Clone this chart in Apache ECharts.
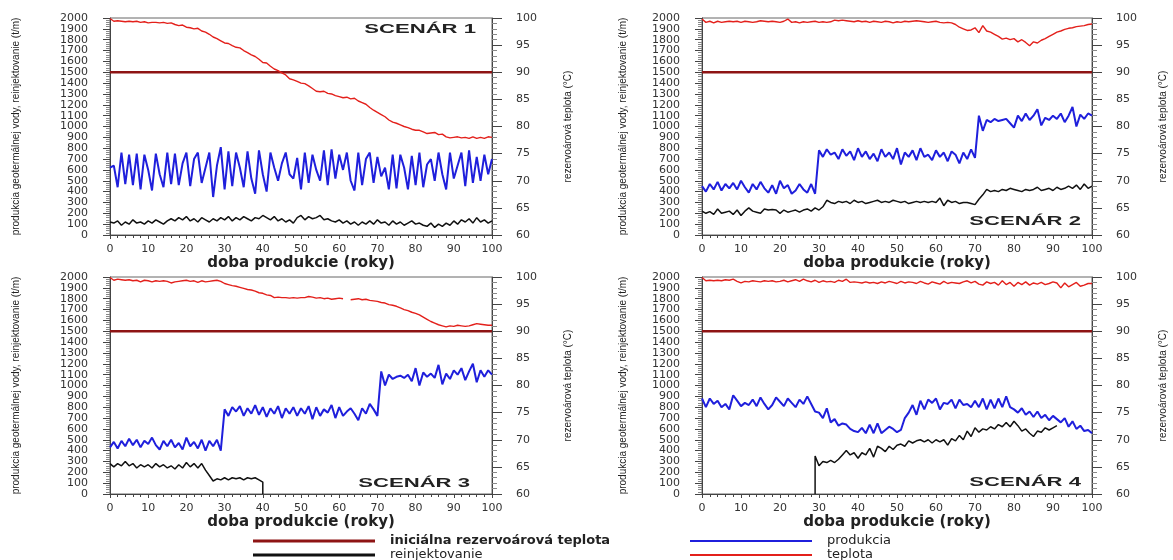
<!DOCTYPE html>
<html><head><meta charset="utf-8">
<script src="https://cdn.jsdelivr.net/npm/echarts@6/dist/echarts.min.js"></script>
<style>html,body{margin:0;padding:0;background:#fff}#c{width:1173px;height:560px}</style>
</head><body><div id="c"></div>
<script>
// ---------- DATA ----------
const xTickLabels = [0,10,20,30,40,50,60,70,80,90,100];
const scenarioNames = ['SCENÁR 1','SCENÁR 2','SCENÁR 3','SCENÁR 4'];
const initialTemp = [[0, 90], [100, 90]];

// Scenario 1 (yearly values, year 0..100)
const s1Temp = [99.9,99.4,99.5,99.4,99.3,99.4,99.3,99.4,99.2,99.3,99.1,99.2,99.2,99.1,99.2,99.0,99.1,98.8,98.6,98.7,98.3,98.2,98.0,98.1,97.6,97.4,97.0,96.5,96.2,95.8,95.4,95.3,94.9,94.6,94.5,94.0,93.6,93.2,92.9,92.4,91.8,91.7,91.1,90.6,90.3,89.9,89.5,88.8,88.6,88.3,88.0,87.9,87.5,87.0,86.5,86.4,86.5,86.1,86.0,85.7,85.5,85.3,85.4,85.1,85.2,84.7,84.4,84.1,83.5,83.0,82.6,82.2,81.8,81.2,80.8,80.6,80.3,80.0,79.8,79.5,79.3,79.3,79.0,78.7,78.8,78.9,78.5,78.6,78.1,77.9,78.0,78.1,77.9,78.0,77.8,78.1,77.8,78.0,77.8,78.1,78.0];
const s1Prod = [620,640,440,760,470,740,460,750,420,740,600,410,750,560,440,760,470,750,460,660,760,450,700,760,480,620,760,350,640,810,420,770,450,760,620,440,770,520,380,780,560,400,760,620,500,660,760,560,520,710,420,760,480,740,600,500,780,460,790,520,740,600,760,500,410,760,460,700,760,480,720,540,620,420,740,430,740,620,420,730,460,760,440,650,700,500,760,560,420,760,520,640,760,450,780,480,720,500,740,560,700];
const s1Reinj = [120,110,130,90,120,100,140,110,120,100,130,110,140,120,100,130,150,130,160,140,170,130,150,120,160,140,120,150,130,160,140,170,130,160,140,170,150,130,160,150,180,160,140,170,130,150,120,140,110,160,180,140,170,150,160,180,140,150,130,120,140,110,130,100,120,90,120,100,130,100,140,110,120,90,130,100,120,90,110,130,100,110,90,80,110,70,100,80,110,90,130,100,140,120,150,110,160,120,140,110,130];

// Scenario 2
const s2Temp = [99.8,99.2,99.4,99.1,99.4,99.2,99.3,99.4,99.3,99.4,99.2,99.4,99.3,99.2,99.3,99.5,99.4,99.3,99.4,99.3,99.2,99.4,99.8,99.2,99.3,99.1,99.3,99.2,99.3,99.4,99.2,99.3,99.2,99.3,99.6,99.5,99.6,99.5,99.4,99.3,99.5,99.3,99.4,99.2,99.4,99.3,99.2,99.4,99.3,99.1,99.3,99.2,99.4,99.3,99.4,99.5,99.4,99.3,99.2,99.3,99.4,99.2,99.1,99.2,99.1,98.8,98.3,98.0,97.7,97.8,98.2,97.3,98.6,97.6,97.4,97.0,96.6,96.1,96.3,96.0,96.2,95.6,96.0,95.5,94.9,95.6,95.4,95.9,96.2,96.6,97.0,97.4,97.6,97.9,98.1,98.2,98.4,98.5,98.6,98.8,98.9];
const s2Prod = [450,400,470,420,490,410,470,430,480,420,500,440,390,470,420,490,430,390,460,380,500,430,460,380,410,470,420,390,470,380,780,720,790,740,760,700,790,730,770,690,800,720,770,700,750,680,790,720,760,700,800,650,760,720,780,690,800,720,740,690,780,720,760,680,770,740,660,760,700,790,710,1100,960,1060,1040,1070,1050,1060,1070,1030,990,1100,1050,1120,1060,1100,1160,1010,1080,1060,1100,1070,1120,1040,1100,1180,1000,1110,1070,1120,1100];
const s2Reinj = [220,200,215,190,240,200,210,220,190,230,180,220,250,220,210,200,240,230,235,230,200,230,210,220,230,210,230,240,220,250,230,260,320,300,290,310,300,310,290,320,300,310,290,300,310,320,300,310,300,320,310,300,310,290,300,310,300,310,300,310,300,340,270,320,300,310,290,300,300,290,280,330,370,420,400,410,400,420,410,430,420,410,400,420,410,420,440,410,420,430,410,440,420,430,450,430,460,420,470,430,450];

// Scenario 3
const s3Temp = [99.9,99.4,99.6,99.5,99.4,99.5,99.3,99.4,99.1,99.4,99.3,99.1,99.3,99.2,99.3,99.2,98.9,99.1,99.2,99.3,99.4,99.2,99.3,99.0,99.3,99.1,99.2,99.3,99.4,99.2,98.8,98.6,98.4,98.3,98.1,97.9,97.7,97.6,97.4,97.1,97.0,96.7,96.6,96.2,96.3,96.2,96.2,96.1,96.2,96.1,96.2,96.2,96.4,96.3,96.1,96.2,96.0,96.1,95.9,96.0,96.1,96.0,null,95.8,95.9,96.0,95.8,95.9,95.7,95.6,95.5,95.3,95.2,94.9,94.8,94.6,94.3,94.0,93.8,93.5,93.3,93.0,92.6,92.2,91.8,91.5,91.2,91.0,90.8,91.0,90.9,91.1,91.0,90.9,91.0,91.2,91.4,91.3,91.2,91.1,91.1];
const s3Prod = [430,480,420,490,440,510,450,500,430,490,460,520,450,410,490,440,500,430,470,410,520,440,480,420,500,400,490,440,500,400,780,720,800,760,810,720,790,740,820,730,800,710,790,740,810,700,790,740,800,720,790,740,810,690,800,720,780,750,820,700,800,720,760,790,740,680,790,740,830,780,720,1130,1000,1100,1060,1080,1090,1070,1100,1040,1160,1000,1120,1080,1110,1070,1190,1010,1110,1060,1140,1100,1160,1050,1130,1200,1030,1140,1080,1140,1100];
const s3Reinj = [280,250,280,260,300,260,280,240,270,250,270,240,280,250,270,240,260,230,270,240,290,250,280,240,280,220,170,120,140,130,150,130,150,140,150,130,150,140,150,130,110];
const s3ReinjEnd = [[40, 0]];

// Scenario 4
const s4Temp = [99.9,99.3,99.4,99.3,99.4,99.3,99.5,99.4,99.6,99.2,98.9,99.2,99.1,99.3,99.2,99.1,99.3,99.2,99.3,99.1,99.2,99.4,99.1,99.3,99.5,99.2,99.6,99.3,99.1,99.4,99.0,99.3,99.1,99.2,99.0,99.4,99.2,99.6,99.0,99.1,99.0,98.9,99.1,98.9,99.0,98.8,99.1,98.9,99.2,99.0,98.8,99.2,98.9,99.1,99.0,98.8,99.2,98.9,98.7,99.1,98.9,98.7,99.2,98.8,99.0,98.9,98.8,99.1,99.3,98.9,99.2,98.7,98.5,99.1,98.8,99.0,98.5,99.3,98.6,99.0,98.3,99.0,98.6,99.1,98.5,98.9,98.7,99.0,98.6,98.8,99.1,98.9,98.0,98.9,98.2,98.6,99.0,98.3,98.5,98.8,98.8];
const s4Prod = [880,800,880,830,860,800,830,780,910,860,810,840,820,870,810,890,830,780,820,890,850,810,880,840,800,870,830,900,830,760,750,700,790,660,690,630,650,640,600,580,570,610,560,640,560,650,560,590,620,600,570,590,700,750,820,730,860,780,870,840,880,780,840,830,870,790,870,820,830,800,860,800,880,780,870,790,880,800,900,800,780,750,790,730,760,710,760,700,730,680,720,690,660,700,620,670,600,630,580,590,560];
const s4ReinjStart = [[29, 0], [29, 350]];
const s4Reinj = [260,300,290,310,290,320,360,400,360,380,330,380,360,420,340,440,420,390,440,410,450,460,440,490,470,490,500,480,500,470,500,480,500,450,510,490,540,500,580,530,610,570,600,590,620,600,640,620,660,620,670,630,580,600,560,530,580,570,610,590,610,630];
const s4ReinjFirstYear = 30;

// ---------- CHART ----------
function pairs(vals, start) { return vals.map((v, i) => [start + i, v]); }

const panels = [
  { temp: pairs(s1Temp, 0), prod: pairs(s1Prod, 0), reinj: pairs(s1Reinj, 0) },
  { temp: pairs(s2Temp, 0), prod: pairs(s2Prod, 0), reinj: pairs(s2Reinj, 0) },
  { temp: pairs(s3Temp, 0), prod: pairs(s3Prod, 0), reinj: pairs(s3Reinj, 0).concat(s3ReinjEnd) },
  { temp: pairs(s4Temp, 0), prod: pairs(s4Prod, 0), reinj: s4ReinjStart.concat(pairs(s4Reinj, s4ReinjFirstYear)) }
];

const gridPos = [
  { left: 110, top: 18, width: 382, height: 217 },
  { left: 702, top: 18, width: 390, height: 217 },
  { left: 110, top: 277, width: 382, height: 217 },
  { left: 702, top: 277, width: 390, height: 217 }
];
const leftNameGap = [89, 74, 89, 74];
const rightNameGap = [71, 66, 71, 66];
const labelPos = [[476, 29], [1081, 221], [470, 483], [1081, 482]];

const C = { red: '#e3201b', blue: '#1f1fdc', black: '#111111', dark: '#8e1414', axis: '#444' };
const tickFont = { fontFamily: 'DejaVu Sans', fontSize: 11, color: '#333' };
const nameFont = "'Liberation Sans', Arial, sans-serif";

const grid = [], xAxis = [], yAxis = [], series = [], graphic = [];
panels.forEach((p, i) => {
  grid.push(Object.assign({ show: true, borderColor: '#666', borderWidth: 1, backgroundColor: 'transparent', containLabel: false, outerBoundsMode: 'none' }, gridPos[i]));
  xAxis.push({
    type: 'value', gridIndex: i, min: 0, max: 100, interval: 10,
    name: 'doba produkcie (roky)', nameLocation: 'middle', nameGap: 21,
    nameTextStyle: { fontFamily: 'DejaVu Sans', fontWeight: 'bold', fontSize: 15, color: '#222' },
    axisLine: { onZero: false, lineStyle: { color: C.axis } },
    axisTick: { length: 4, lineStyle: { color: C.axis } },
    minorTick: { show: true, splitNumber: 5, length: 3, lineStyle: { color: C.axis } },
    axisLabel: Object.assign({ margin: 9, formatter: v => xTickLabels.includes(v) ? String(v) : '' }, tickFont),
    splitLine: { show: false }
  });
  yAxis.push({
    type: 'value', gridIndex: i, position: 'left', min: 0, max: 2000, interval: 100,
    name: 'produkcia geotermálnej vody, reinjektovanie (t/m)', nameLocation: 'middle', nameRotate: 90, nameGap: leftNameGap[i],
    nameTextStyle: { fontFamily: nameFont, fontSize: 10, color: '#222' },
    axisLine: { show: true, onZero: false, lineStyle: { color: C.axis } },
    axisTick: { show: true, length: 7, lineStyle: { color: C.axis } },
    minorTick: { show: true, splitNumber: 5, length: 4, lineStyle: { color: '#888' } },
    axisLabel: Object.assign({ margin: 22, showMinLabel: true, showMaxLabel: true, hideOverlap: false, formatter: v => String(v) }, tickFont),
    splitLine: { show: false }
  });
  yAxis.push({
    type: 'value', gridIndex: i, position: 'right', min: 60, max: 100, interval: 5,
    name: 'rezervoárová teplota (°C)', nameLocation: 'middle', nameRotate: 90, nameGap: rightNameGap[i],
    nameTextStyle: { fontFamily: nameFont, fontSize: 10, color: '#222' },
    axisLine: { show: true, onZero: false, lineStyle: { color: C.axis } },
    axisTick: { show: true, length: 10, lineStyle: { color: C.axis } },
    minorTick: { show: true, splitNumber: 5, length: 5, lineStyle: { color: '#888' } },
    axisLabel: Object.assign({ margin: 24, formatter: v => String(v) }, tickFont),
    splitLine: { show: false }
  });
  const base = { type: 'line', xAxisIndex: i, showSymbol: false, symbol: 'none', animation: false, connectNulls: false };
  series.push(Object.assign({}, base, { name: 'reinjektovanie', yAxisIndex: 2 * i, data: p.reinj, lineStyle: { color: C.black, width: 1.5 }, itemStyle: { color: C.black }, z: 3 }));
  series.push(Object.assign({}, base, { name: 'produkcia', yAxisIndex: 2 * i, data: p.prod, lineStyle: { color: C.blue, width: 2 }, itemStyle: { color: C.blue }, z: 3 }));
  series.push(Object.assign({}, base, { name: 'iniciálna rezervoárová teplota', yAxisIndex: 2 * i + 1, data: initialTemp, lineStyle: { color: C.dark, width: 2.5 }, itemStyle: { color: C.dark }, z: 2 }));
  series.push(Object.assign({}, base, { name: 'teplota', yAxisIndex: 2 * i + 1, data: p.temp, lineStyle: { color: C.red, width: 1.4 }, itemStyle: { color: C.red }, z: 4 }));
  graphic.push({
    type: 'text', x: labelPos[i][0], y: labelPos[i][1], scaleX: 1.7, z: 100,
    style: { text: scenarioNames[i], fontFamily: "'Liberation Sans', Arial, sans-serif", fontWeight: 'bold', fontSize: 13, fill: '#222', align: 'right', verticalAlign: 'middle' }
  });
});

const legendText = {
  fontFamily: 'DejaVu Sans', fontSize: 13, color: '#222', lineHeight: 14, padding: [0, 0, 0, 10],
  rich: { b: { fontFamily: 'DejaVu Sans', fontWeight: 'bold', fontSize: 13, lineHeight: 14, color: '#222' } }
};
const legendCommon = { orient: 'vertical', padding: 0, height: 40, width: 420, itemWidth: 122, itemGap: 0, icon: 'rect', selectedMode: false, textStyle: legendText, formatter: n => n.indexOf('inici') === 0 ? '{b|' + n + '}' : n };

const chart = echarts.init(document.getElementById('c'), null, { renderer: 'canvas' });
chart.setOption({
  animation: false,
  backgroundColor: '#fff',
  grid, xAxis, yAxis, series, graphic,
  legend: [
    Object.assign({ left: 253, top: 534, itemHeight: 3, data: ['iniciálna rezervoárová teplota', 'reinjektovanie'] }, legendCommon),
    Object.assign({ left: 690, top: 534, itemHeight: 2, data: ['produkcia', 'teplota'] }, legendCommon)
  ]
});
</script>
</body></html>
